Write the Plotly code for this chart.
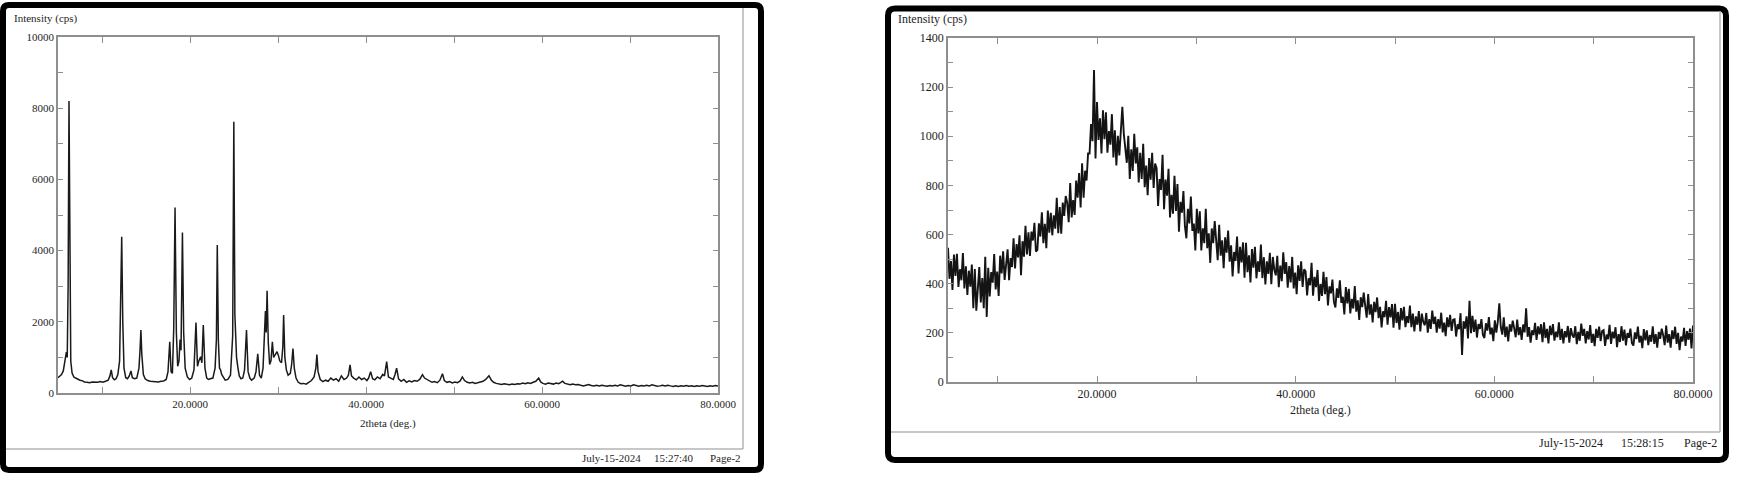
import plotly.graph_objects as go

W, H = 1746, 478
FONT = "Liberation Serif"

# ---------------- Panel A (crystalline pattern) ----------------
two_theta_A = [
    5.0, 5.2, 5.4, 5.6, 5.8, 5.95, 6.05, 6.15, 6.25, 6.35,
    6.45, 6.6, 6.8, 7.0, 7.2, 7.5, 7.8, 8.0, 8.3, 8.6,
    8.9, 9.2, 9.5, 9.8, 10.1, 10.4, 10.7, 10.9, 11.05, 11.2,
    11.4, 11.6, 11.8, 12.0, 12.12, 12.24, 12.36, 12.5, 12.7, 12.9,
    13.1, 13.29, 13.45, 13.7, 13.95, 14.2, 14.32, 14.42, 14.52, 14.7,
    14.9, 15.2, 15.5, 15.8, 16.1, 16.4, 16.7, 17.0, 17.3, 17.5,
    17.7, 17.85, 18.0, 18.15, 18.3, 18.45, 18.6, 18.75, 18.87, 18.98,
    19.14, 19.28, 19.45, 19.7, 19.95, 20.2, 20.45, 20.68, 20.85, 21.0,
    21.21, 21.35, 21.51, 21.7, 21.9, 22.1, 22.3, 22.6, 22.85, 23.0,
    23.1, 23.22, 23.35, 23.47, 23.6, 23.8, 24.0, 24.3, 24.6, 24.85,
    24.98, 25.1, 25.29, 25.45, 25.6, 25.8, 26.0, 26.2, 26.42, 26.6,
    26.8, 27.0, 27.3, 27.5, 27.7, 27.9, 28.1, 28.3, 28.45, 28.57,
    28.66, 28.76, 28.9, 29.05, 29.2, 29.36, 29.5, 29.7, 29.89, 30.05,
    30.2, 30.4, 30.55, 30.64, 30.78, 30.95, 31.15, 31.4, 31.55, 31.7,
    31.85, 32.05, 32.3, 32.6, 32.9, 33.2, 33.5, 33.8, 34.1, 34.3,
    34.42, 34.55, 34.8, 35.1, 35.4, 35.7, 36.0, 36.3, 36.6, 36.9,
    37.2, 37.5, 37.8, 38.0, 38.19, 38.35, 38.6, 38.9, 39.2, 39.5,
    39.8, 40.1, 40.3, 40.53, 40.75, 41.0, 41.3, 41.6, 41.9, 42.1,
    42.35, 42.55, 42.8, 43.1, 43.3, 43.48, 43.7, 44.0, 44.3, 44.6,
    44.9, 45.2, 45.5, 45.8, 46.1, 46.42, 46.65, 46.9, 47.2, 47.5,
    47.8, 48.1, 48.4, 48.69, 48.9, 49.2, 49.5, 49.8, 50.1, 50.4,
    50.7, 50.95, 51.2, 51.5, 51.8, 52.1, 52.4, 52.7, 53.0, 53.3,
    53.6, 53.97, 54.25, 54.5, 54.8, 55.1, 55.4, 55.7, 56.0, 56.3,
    56.6, 56.9, 57.2, 57.5, 57.8, 58.1, 58.4, 58.7, 59.0, 59.3,
    59.62, 59.85, 60.1, 60.4, 60.7, 61.0, 61.3, 61.6, 61.9, 62.1,
    62.34, 62.6, 62.9, 63.2, 63.5, 63.8, 64.1, 64.4, 64.7, 65.0,
    65.3, 65.6, 65.9, 66.2, 66.5, 66.8, 67.1, 67.4, 67.7, 68.0,
    68.3, 68.6, 68.9, 69.2, 69.5, 69.8, 70.1, 70.4, 70.7, 71.0,
    71.3, 71.6, 71.9, 72.2, 72.5, 72.8, 73.1, 73.4, 73.7, 74.0,
    74.3, 74.6, 74.9, 75.2, 75.5, 75.8, 76.1, 76.4, 76.7, 77.0,
    77.3, 77.6, 77.9, 78.2, 78.5, 78.8, 79.1, 79.4, 79.7, 80.0,
]
intensity_A = [
    430, 470, 520, 620, 900, 1150, 1000, 3000, 8200, 2800,
    900, 560, 450, 420, 390, 360, 340, 310, 300, 290,
    310, 295, 300, 320, 305, 330, 360, 480, 650, 430,
    370, 400, 520, 900, 2200, 4390, 2000, 700, 430, 400,
    480, 620, 430, 400, 420, 700, 1200, 1770, 1100, 520,
    400, 350, 330, 320, 330, 310, 330, 340, 380, 600,
    1440, 600, 550, 1800, 5210, 1700, 750, 900, 1500, 1200,
    4510, 1700, 700, 450, 380, 420, 650, 1980, 750, 900,
    1020, 850, 1910, 700, 420, 380, 400, 420, 700, 1500,
    4160, 1500, 700, 650, 520, 420, 360, 380, 500, 1600,
    7620, 2200, 1000, 700, 480, 400, 420, 650, 1770, 600,
    420, 360, 420, 600, 1100, 500, 420, 700, 1500, 2300,
    1700, 2870, 1400, 800, 900, 1440, 1000, 1100, 1160, 1050,
    900, 850, 1300, 2190, 1000, 650, 500, 550, 800, 1250,
    700, 420, 300, 260, 270, 250, 290, 350, 450, 700,
    1080, 600, 380, 320, 360, 330, 420, 360, 400, 330,
    480, 380, 420, 500, 790, 480, 420, 370, 450, 380,
    420, 350, 420, 600, 400, 370, 450, 400, 520, 480,
    880, 450, 420, 380, 520, 700, 400, 330, 380, 300,
    340, 310, 350, 330, 380, 514, 420, 380, 330, 300,
    320, 290, 360, 543, 350, 300, 320, 280, 310, 290,
    340, 450, 350, 300, 280, 300, 270, 290, 300, 330,
    380, 486, 360, 300, 270, 250, 240, 260, 240, 230,
    250, 240, 260, 250, 280, 260, 290, 270, 300, 330,
    420, 310, 270, 250, 280, 260, 250, 280, 260, 290,
    330, 270, 240, 230, 250, 230, 240, 220, 200, 220,
    240, 210, 200, 220, 200, 220, 210, 190, 210, 200,
    220, 200, 230, 210, 190, 210, 200, 230, 210, 190,
    210, 200, 220, 200, 230, 210, 190, 200, 220, 200,
    220, 200, 185, 200, 180, 200, 190, 210, 190, 200,
    180, 200, 190, 210, 190, 180, 200, 190, 210, 195,
]

# ---------------- Panel B (amorphous pattern) ----------------
two_theta_B_start = 5.0
two_theta_B_step = 0.15
intensity_B = [
    546, 420, 492, 375, 519, 432, 522, 387, 459, 414, 525, 381, 471, 354, 453, 388, 478, 300, 460, 290,
    378, 468, 324, 423, 300, 510, 265, 465, 348, 447, 404, 521, 377, 449, 350, 514, 442, 532, 415, 496,
    540, 414, 504, 468, 585, 462, 561, 507, 597, 435, 573, 510, 636, 519, 609, 513, 612, 576, 648, 531,
    538, 646, 592, 691, 565, 644, 545, 698, 608, 689, 597, 678, 624, 750, 606, 712, 604, 730, 676, 757,
    730, 650, 810, 670, 740, 680, 820, 750, 850, 710, 890, 750, 860, 820, 930, 930, 1050, 980, 1270, 910,
    1139, 985, 1073, 930, 1106, 988, 1098, 933, 1021, 966, 1090, 914, 1024, 881, 1002, 922, 1032, 1120, 1010, 944,
    892, 1002, 826, 947, 859, 1010, 889, 955, 812, 933, 826, 969, 793, 881, 760, 911, 823, 933, 790, 889,
    870, 716, 826, 782, 925, 703, 824, 758, 868, 670, 762, 685, 839, 696, 806, 612, 733, 689, 777, 634,
    585, 705, 645, 755, 615, 645, 535, 705, 605, 695, 535, 625, 565, 705, 545, 605, 485, 625, 565, 655,
    568, 496, 640, 514, 577, 463, 589, 526, 616, 490, 556, 430, 529, 493, 592, 442, 550, 487, 568, 424,
    567, 447, 516, 405, 541, 465, 550, 422, 491, 448, 559, 423, 508, 397, 491, 440, 526, 398, 509, 457,
    434, 514, 386, 474, 410, 528, 440, 488, 384, 472, 405, 509, 381, 445, 357, 475, 411, 491, 387, 459,
    450, 352, 422, 394, 485, 351, 428, 386, 456, 330, 399, 350, 448, 357, 427, 312, 389, 361, 417, 326,
    303, 381, 342, 414, 322, 347, 275, 386, 320, 379, 279, 338, 299, 390, 286, 332, 253, 345, 305, 364,
    310, 262, 358, 274, 316, 242, 326, 284, 344, 260, 306, 222, 288, 264, 330, 233, 305, 263, 317, 221,
    318, 240, 285, 213, 301, 251, 306, 223, 268, 240, 311, 223, 278, 206, 267, 233, 289, 206, 278, 244,
    231, 281, 201, 256, 216, 291, 236, 266, 201, 256, 217, 282, 202, 242, 187, 263, 223, 273, 208, 253,
    255, 185, 235, 215, 280, 110, 247, 217, 267, 177, 330, 199, 269, 204, 254, 181, 236, 216, 256, 191,
    179, 239, 209, 264, 194, 221, 166, 251, 201, 246, 320, 223, 193, 263, 183, 225, 165, 235, 205, 250,
    218, 182, 254, 191, 223, 171, 234, 202, 300, 184, 223, 160, 210, 191, 241, 171, 226, 194, 235, 162,
    243, 179, 216, 157, 229, 191, 236, 168, 205, 182, 243, 171, 216, 157, 207, 182, 228, 160, 219, 191,
    181, 227, 154, 204, 168, 238, 188, 216, 157, 207, 173, 232, 159, 196, 146, 216, 180, 225, 166, 207,
    211, 147, 193, 174, 233, 155, 205, 178, 223, 142, 195, 163, 227, 168, 213, 149, 199, 180, 217, 158,
    148, 202, 175, 225, 161, 188, 138, 215, 169, 210, 150, 191, 164, 227, 155, 195, 140, 204, 176, 217,
    190, 150, 230, 160, 195, 140, 210, 175, 225, 155, 200, 130, 185, 165, 220, 147, 207, 172, 217, 137,
    230,
]
two_theta_B = [round(two_theta_B_start + i * two_theta_B_step, 3) for i in range(len(intensity_B))]

x_ticks = [20, 40, 60, 80]
x_minor = [10, 30, 50, 70]
y_ticks_A = [0, 2000, 4000, 6000, 8000, 10000]
y_minor_A = [1000, 3000, 5000, 7000, 9000]
y_ticks_B = [0, 200, 400, 600, 800, 1000, 1200, 1400]
y_minor_B = [100, 300, 500, 700, 900, 1100, 1300]

y_label = "Intensity (cps)"
x_label = "2theta (deg.)"
footer_A = ["July-15-2024", "15:27:40", "Page-2"]
footer_B = ["July-15-2024", "15:28:15", "Page-2"]


def px(x):
    return x / W


def py(y):
    return 1 - y / H


AX = "#8f8f8f"
TXT = "#1e1e1e"

fig = go.Figure()
fig.add_trace(go.Scatter(x=two_theta_A, y=intensity_A, mode="lines",
                         line=dict(color="#1a1a1a", width=1.5),
                         xaxis="x", yaxis="y", showlegend=False, hoverinfo="skip"))
fig.add_trace(go.Scatter(x=two_theta_B, y=intensity_B, mode="lines",
                         line=dict(color="#141414", width=1.9),
                         xaxis="x2", yaxis="y2", showlegend=False, hoverinfo="skip"))


def xaxis(domain, anchor, size):
    return dict(domain=domain, anchor=anchor, range=[5, 80], tickvals=x_ticks,
                tickformat=".4f", ticks="inside", ticklen=6, tickwidth=1.2, tickcolor=AX,
                minor=dict(tickvals=x_minor, ticks="inside", ticklen=6, tickwidth=1.2, tickcolor=AX),
                showline=True, linecolor=AX, linewidth=1.5, mirror="ticks",
                showgrid=False, zeroline=False,
                tickfont=dict(family=FONT, size=size, color=TXT))


def yaxis(domain, anchor, rng, tv, mv, size):
    return dict(domain=domain, anchor=anchor, range=rng, tickvals=tv, tickformat="d",
                ticks="inside", ticklen=5, tickwidth=1.2, tickcolor=AX,
                minor=dict(tickvals=mv, ticks="inside", ticklen=5, tickwidth=1.2, tickcolor=AX),
                showline=True, linecolor=AX, linewidth=1.5, mirror="ticks",
                showgrid=False, zeroline=False,
                tickfont=dict(family=FONT, size=size, color=TXT))


shapes = []


def rounded(x0, y0, x1, y1, r):
    pts = [
        ("M", [(x0 + r, y0)]), ("L", [(x1 - r, y0)]), ("Q", [(x1, y0), (x1, y0 + r)]),
        ("L", [(x1, y1 - r)]), ("Q", [(x1, y1), (x1 - r, y1)]), ("L", [(x0 + r, y1)]),
        ("Q", [(x0, y1), (x0, y1 - r)]), ("L", [(x0, y0 + r)]), ("Q", [(x0, y0), (x0 + r, y0)]),
    ]
    s = ""
    for cmd, ps in pts:
        s += cmd + " " + " ".join(f"{px(a):.6f},{py(b):.6f}" for a, b in ps) + " "
    return s + "Z"


# outer black frames
shapes.append(dict(type="path", xref="paper", yref="paper", path=rounded(3, 5, 761, 470, 6),
                   line=dict(color="black", width=6)))
shapes.append(dict(type="path", xref="paper", yref="paper", path=rounded(888, 8.5, 1726, 460, 7),
                   line=dict(color="black", width=6)))
# inner gray separators
GR = "#b4b4b4"
for (xa, ya, xb, yb) in [(743, 8, 743, 449), (6, 449, 743, 449),
                         (1720, 11, 1720, 432), (891, 432, 1720, 432)]:
    shapes.append(dict(type="line", xref="paper", yref="paper",
                       x0=px(xa), y0=py(ya), x1=px(xb), y1=py(yb),
                       line=dict(color=GR, width=1.5)))

ann = []


def text(t, x, y, size, xanchor="center"):
    ann.append(dict(text=t, x=px(x), y=py(y), xref="paper", yref="paper",
                    xanchor=xanchor, yanchor="middle", showarrow=False,
                    font=dict(family=FONT, size=size, color=TXT)))


text(y_label, 12, 18, 11, "left")
text(x_label, 388, 423, 11)
text(footer_A[0], 611, 458, 11)
text(footer_A[1], 674, 458, 11)
text(footer_A[2], 725, 458, 11)

text(y_label, 896, 19, 12, "left")
text(x_label, 1320, 410, 12)
text(footer_B[0], 1571, 443, 12)
text(footer_B[1], 1642, 443, 12)
text(footer_B[2], 1700, 443, 12)

fig.update_layout(
    width=W, height=H, autosize=False, margin=dict(l=0, r=0, t=0, b=0, pad=0, autoexpand=False),
    paper_bgcolor="white", plot_bgcolor="white",
    font=dict(family=FONT),
    xaxis=xaxis([px(58), px(718)], "y", 11),
    yaxis=yaxis([py(393), py(37)], "x", [0, 10000], y_ticks_A, y_minor_A, 11),
    xaxis2=xaxis([px(948), px(1693)], "y2", 12),
    yaxis2=yaxis([py(382), py(38)], "x2", [0, 1400], y_ticks_B, y_minor_B, 12),
    shapes=shapes, annotations=ann, showlegend=False,
)

post = ("document.documentElement.style.margin='0px';"
        "document.body.style.margin='0px';document.body.style.overflow='hidden';"
        "document.documentElement.style.overflow='hidden';"
        "Plotly.relayout('{plot_id}', {width: %d, height: %d, autosize: false});" % (W, H))

fig.write_html("out.html",
               config={"displayModeBar": False, "responsive": False},
               post_script=post)
